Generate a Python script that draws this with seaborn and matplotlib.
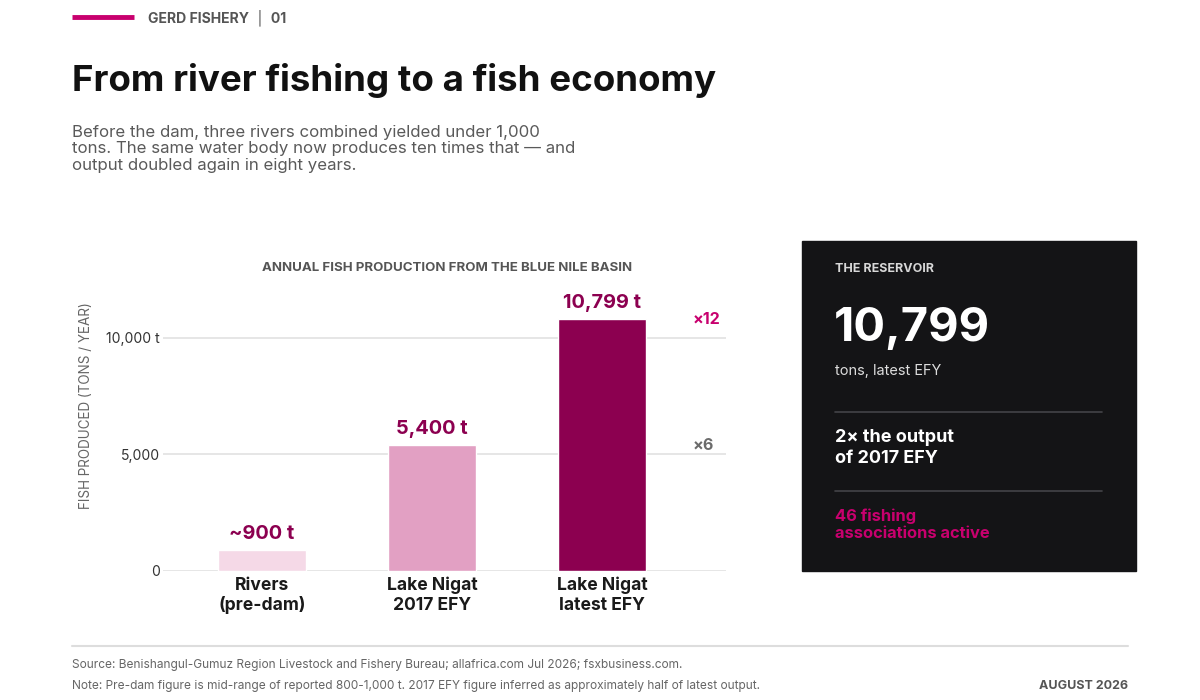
import matplotlib
matplotlib.use("Agg")
import matplotlib.pyplot as plt
import seaborn as sns
import pandas as pd

# data
categories = ["Rivers\n(pre-dam)", "Lake Nigat\n2017 EFY", "Lake Nigat\nlatest EFY"]
production = [900, 5400, 10799]
value_labels = ["~900 t", "5,400 t", "10,799 t"]
bar_colors = ["#f5d9e7", "#e2a0c3", "#8c0050"]
yticks = [0, 5000, 10000]
ytick_labels = ["0", "5,000", "10,000 t"]
multipliers = [("×12", 10799, "#c8006e"), ("×6", 5400, "#6b6b6b")]

W, H = 1200, 700
PINK = "#c8006e"
DARK_VAL = "#8c0050"

sns.set_theme(style="white")
plt.rcParams["font.family"] = ["Inter", "DejaVu Sans"]

fig = plt.figure(figsize=(12, 7), dpi=100)
fig.patch.set_facecolor("white")


def fx(x):
    return x / W


def fy(y):
    return 1 - y / H


def txt(x, y, s, size, **kw):
    # sizes given in px, converted to pt
    fig.text(fx(x), fy(y), s, fontsize=size * 0.72, **kw)


# header
fig.add_artist(plt.Line2D([fx(72), fx(134)], [fy(17), fy(17)], color=PINK, lw=3.5,
                          solid_capstyle="butt"))
txt(148, 18, "GERD FISHERY  │  01", 14, color="#555555", weight="bold", va="center")
txt(72, 80, "From river fishing to a fish economy", 36.7, color="#111111", weight="bold", va="center")
subtitle = ("Before the dam, three rivers combined yielded under 1,000\n"
            "tons. The same water body now produces ten times that — and\n"
            "output doubled again in eight years.")
txt(72, 149, subtitle, 16.8, color="#5a5a5a", va="center", linespacing=1.15)

# chart
ax = fig.add_axes([fx(163), fy(571), fx(726) - fx(163), fy(291) - fy(571)])
df = pd.DataFrame({"category": categories, "production": production})
sns.barplot(data=df, x="category", y="production", hue="category",
            palette=bar_colors, legend=False, width=0.52, ax=ax, zorder=3,
            saturation=1)
ax.set_xlim(-0.582, 2.729)
ax.set_ylim(0, 12000)
ax.set_yticks(yticks)
ax.set_yticklabels(ytick_labels)
for y in yticks:
    ax.axhline(y, color="#e2e2e2", lw=1.2, zorder=1)
for s in ax.spines.values():
    s.set_visible(False)
ax.tick_params(axis="y", length=0, pad=2, labelsize=14 * 0.72, labelcolor="#333333")
ax.tick_params(axis="x", length=0, pad=4)
for lab in ax.get_xticklabels():
    lab.set_fontsize(17.5 * 0.72)
    lab.set_fontweight("bold")
    lab.set_color("#1a1a1a")
    lab.set_linespacing(1.2)
ax.set_xlabel("")
ax.set_ylabel("")

for i, (v, lab) in enumerate(zip(production, value_labels)):
    ax.annotate(lab, (i, v), xytext=(0, 5), textcoords="offset points",
                ha="center", va="bottom", fontsize=20 * 0.72, weight="bold",
                color=DARK_VAL)

for lab, v, c in multipliers:
    ax.annotate(lab, (2.729, v), xytext=(-24, 0), textcoords="offset points",
                ha="left", va="center", fontsize=16 * 0.72, weight="bold", color=c)

txt(447, 268, "ANNUAL FISH PRODUCTION FROM THE BLUE NILE BASIN", 13.3, color="#555555",
    weight="bold", ha="center", va="center")
txt(86, 406, "FISH PRODUCED (TONS / YEAR)", 13.5, color="#666666", rotation=90,
    ha="center", va="center")

# side panel
panel = plt.Rectangle((fx(802), fy(571)), fx(1136) - fx(802), fy(241) - fy(571),
                      transform=fig.transFigure, color="#141416", zorder=0)
fig.add_artist(panel)
txt(835, 269, "THE RESERVOIR", 12.5, color="#d8d8d8", weight="bold", va="center")
txt(834, 329, "10,799", 47, color="white", weight="bold", va="center")
txt(835, 371, "tons, latest EFY", 14.5, color="#dddddd", va="center")
fig.add_artist(plt.Line2D([fx(835), fx(1102)], [fy(412), fy(412)], color="#444448", lw=1.2))
txt(835, 448, "2× the output\nof 2017 EFY", 18, color="white", weight="bold", va="center",
    linespacing=1.3)
fig.add_artist(plt.Line2D([fx(835), fx(1102)], [fy(491), fy(491)], color="#444448", lw=1.2))
txt(835, 525, "46 fishing\nassociations active", 16.5, color=PINK, weight="bold", va="center",
    linespacing=1.2)

# footer
fig.add_artist(plt.Line2D([fx(72), fx(1128)], [fy(646), fy(646)], color="#dddddd", lw=1.5))
txt(72, 665, "Source: Benishangul-Gumuz Region Livestock and Fishery Bureau; allafrica.com Jul 2026; fsxbusiness.com.",
    11.9, color="#666666", va="center")
txt(72, 686, "Note: Pre-dam figure is mid-range of reported 800-1,000 t. 2017 EFY figure inferred as approximately half of latest output.",
    11.9, color="#666666", va="center")
txt(1128, 686, "AUGUST 2026", 12.5, color="#555555", weight="bold", ha="right", va="center")

fig.savefig("out.png", dpi=100, facecolor="white")
